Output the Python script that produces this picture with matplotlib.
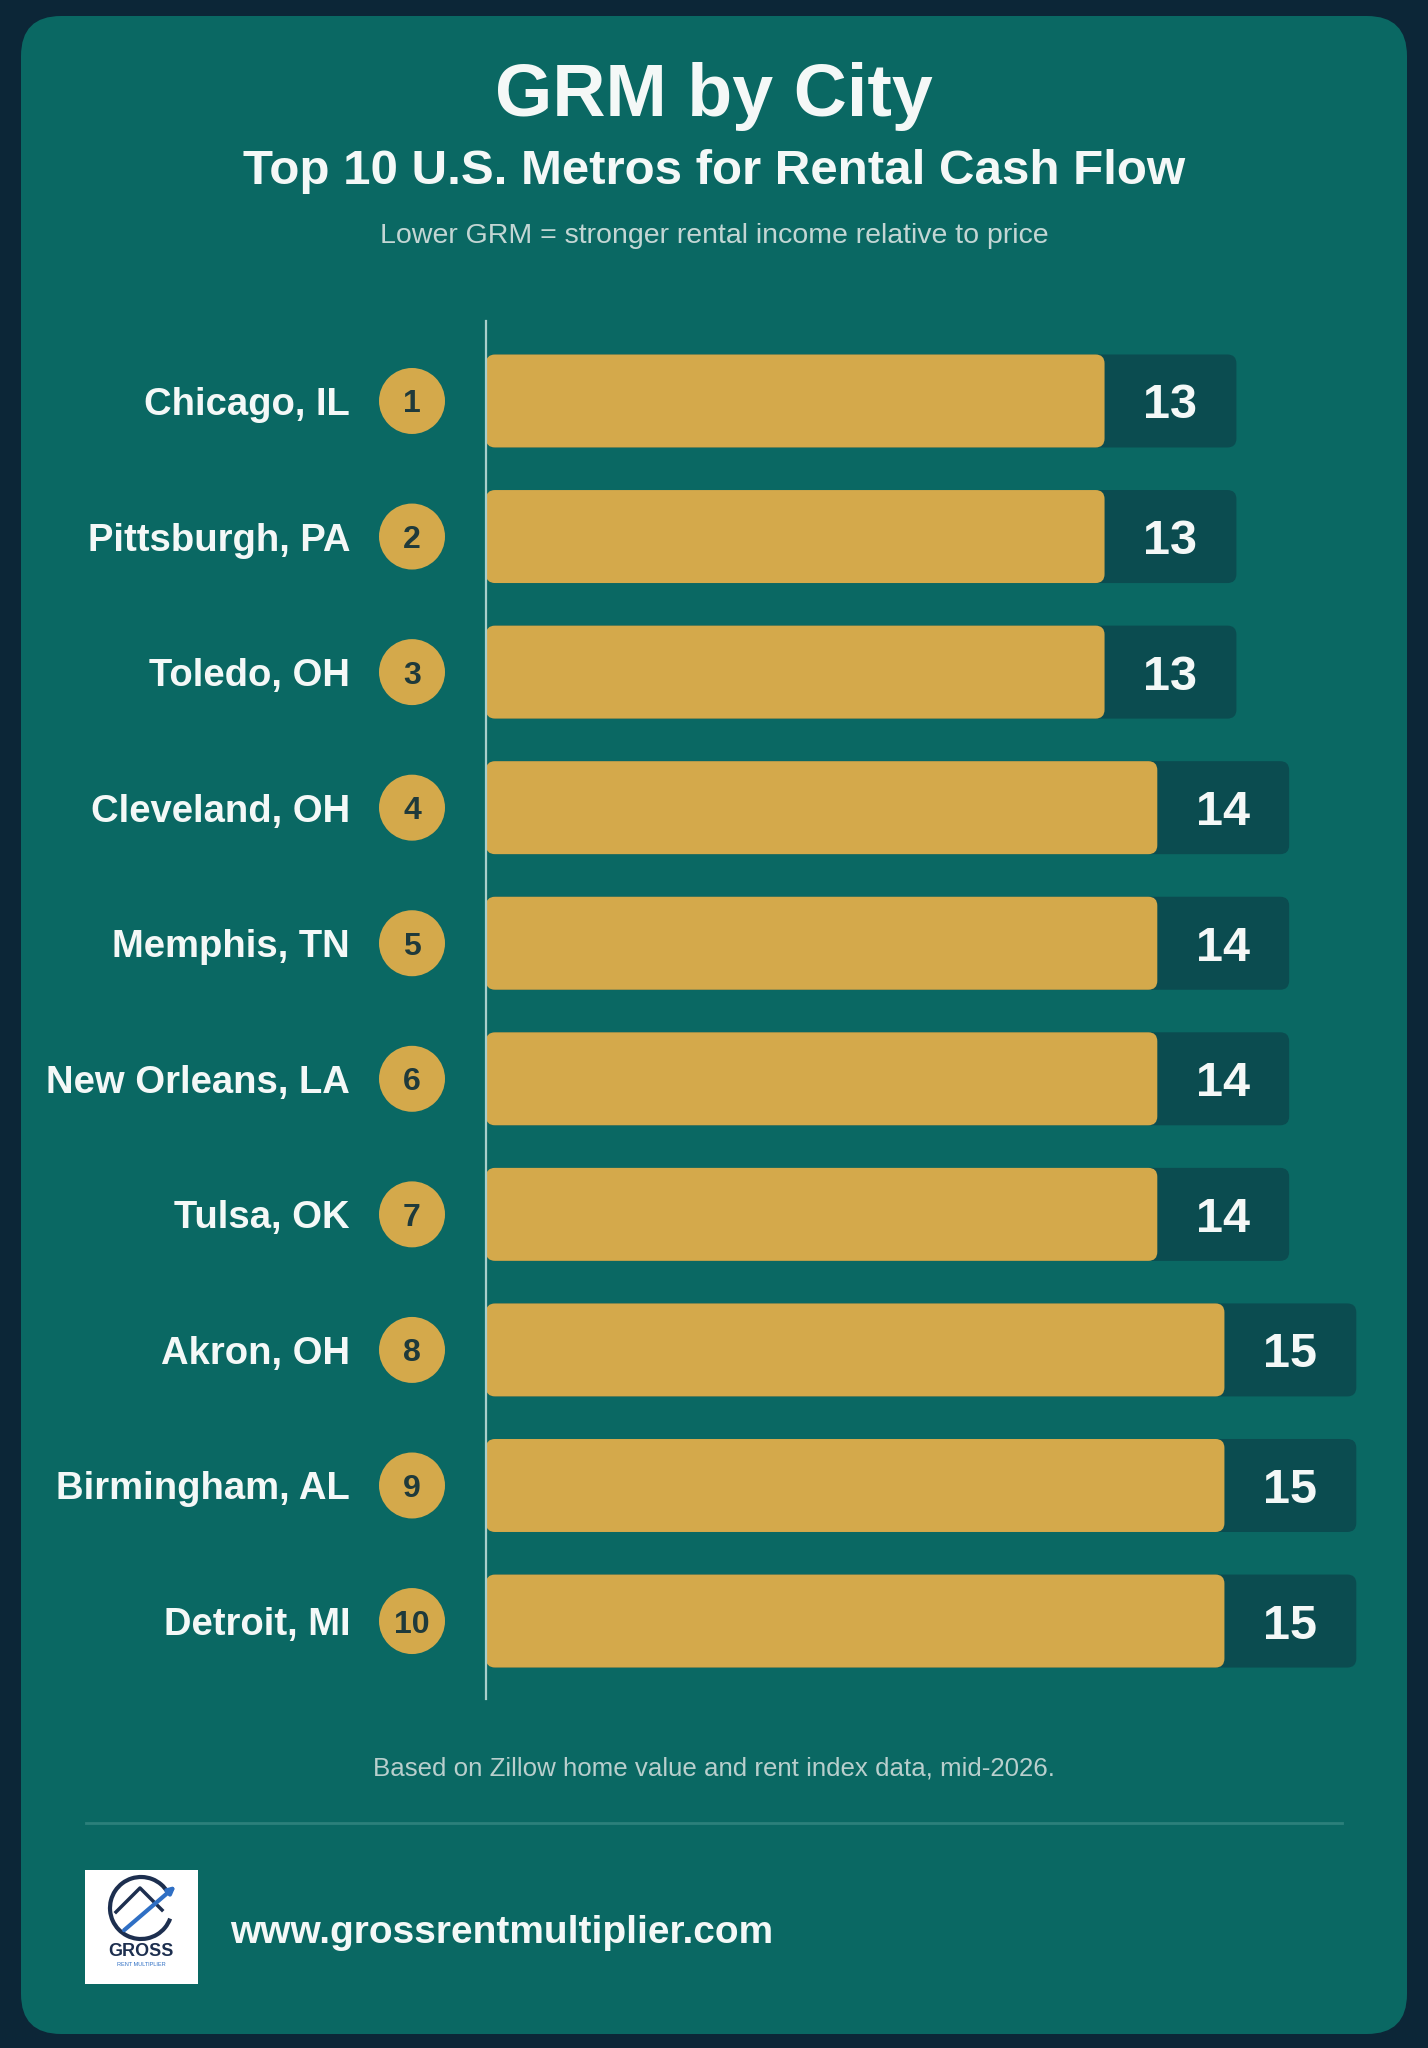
import matplotlib
matplotlib.use("Agg")
import matplotlib.pyplot as plt
from matplotlib.patches import FancyBboxPatch, Ellipse, Rectangle, Arc
import numpy as np

plt.rcParams['font.family'] = ['Liberation Sans', 'DejaVu Sans']

cities = ["Chicago, IL", "Pittsburgh, PA", "Toledo, OH", "Cleveland, OH", "Memphis, TN",
          "New Orleans, LA", "Tulsa, OK", "Akron, OH", "Birmingham, AL", "Detroit, MI"]
grm = [12.9, 12.9, 12.9, 14.0, 14.0, 14.0, 14.0, 15.4, 15.4, 15.4]
ranks = list(range(1, 11))

title = "GRM by City"
subtitle = "Top 10 U.S. Metros for Rental Cash Flow"
note = "Lower GRM = stronger rental income relative to price"
source = "Based on Zillow home value and rent index data, mid-2026."
url = "www.grossrentmultiplier.com"

W, H = 1428, 2048
outer = "#0c2637"
card = "#0a6863"
gold = "#d4a94b"
dark = "#0b4c50"
white = "#f4f8f7"

fig = plt.figure(figsize=(W / 100, H / 100), dpi=100)
fig.patch.set_facecolor(outer)

# background layer in pixel coordinates
bg = fig.add_axes([0, 0, 1, 1])
bg.set_xlim(0, W)
bg.set_ylim(H, 0)
bg.axis("off")
bg.add_patch(FancyBboxPatch((21, 16), 1386, 2018, boxstyle="round,pad=0,rounding_size=40",
                            fc=card, ec="none"))

bg.text(W / 2, 89, title, ha="center", va="center_baseline", fontsize=53, fontweight="bold", color=white)
bg.text(W / 2, 166, subtitle, ha="center", va="center_baseline", fontsize=35.5, fontweight="bold", color=white)
bg.text(W / 2, 233, note, ha="center", va="center_baseline", fontsize=20.5, color="#c3d6d4")
bg.text(W / 2, 1766, source, ha="center", va="center_baseline", fontsize=18.6, color="#b9cfcd")
bg.plot([86, 1342], [1823, 1823], color="#2c807b", lw=2)

# logo
bg.add_patch(Rectangle((85, 1870), 113, 114, fc="white", ec="none"))
bg.add_patch(Arc((141, 1908), 62, 62, theta1=20, theta2=330, color="#1d2f4f", lw=3))
bg.plot([116, 140, 162], [1912, 1888, 1910], color="#1d2f4f", lw=2.5)
bg.annotate("", xy=(178, 1884), xytext=(122, 1932),
            arrowprops=dict(arrowstyle="-|>", color="#2f6fc4", lw=3))
bg.text(141, 1951, "GROSS", ha="center", va="center", fontsize=13, fontweight="bold", color="#1d2f4f")
bg.text(141, 1964, "RENT MULTIPLIER", ha="center", va="center", fontsize=4, color="#2f6fc4")
bg.text(230, 1929, url, ha="left", va="center_baseline", fontsize=28, fontweight="bold", color=white)

# chart
px_per_unit = 47.95
ax = fig.add_axes([486 / W, 1 - 1699 / H, 914 / W, 1378 / H])
ax.set_facecolor("none")
ax.set_xlim(0, 914 / px_per_unit)
ax.set_ylim(9.575, -0.59)
for s in ["top", "right", "bottom"]:
    ax.spines[s].set_visible(False)
ax.spines["left"].set_color("#a9cfcb")
ax.spines["left"].set_linewidth(1.6)
ax.set_xticks([])
ax.set_yticks([])

bar_h = 0.686
pad = 2.75
row_px = 135.6
r_x = 9 / px_per_unit
asp = (9 / row_px) / r_x

for i, (city, v, rk) in enumerate(zip(cities, grm, ranks)):
    y0 = i - bar_h / 2
    ax.add_patch(FancyBboxPatch((0, y0), v + pad, bar_h,
                                boxstyle=f"round,pad=0,rounding_size={r_x}",
                                mutation_aspect=asp, fc=dark, ec="none"))
    ax.add_patch(FancyBboxPatch((0, y0), v, bar_h,
                                boxstyle=f"round,pad=0,rounding_size={r_x}",
                                mutation_aspect=asp, fc=gold, ec="none"))
    ax.text(v + pad / 2, i, f"{round(v)}", ha="center", va="center_baseline",
            fontsize=35, fontweight="bold", color=white)
    cx = (412 - 486) / px_per_unit
    ax.add_patch(Ellipse((cx, i), 66 / px_per_unit, 66 / row_px, fc=gold, ec="none", clip_on=False))
    ax.text(cx, i, str(rk), ha="center", va="center_baseline", fontsize=23, fontweight="bold",
            color="#1f3a3b", clip_on=False)
    ax.text((350 - 486) / px_per_unit, i, city, ha="right", va="center_baseline",
            fontsize=27.5, fontweight="bold", color=white, clip_on=False)

fig.savefig("out.png", dpi=100, facecolor=outer)
